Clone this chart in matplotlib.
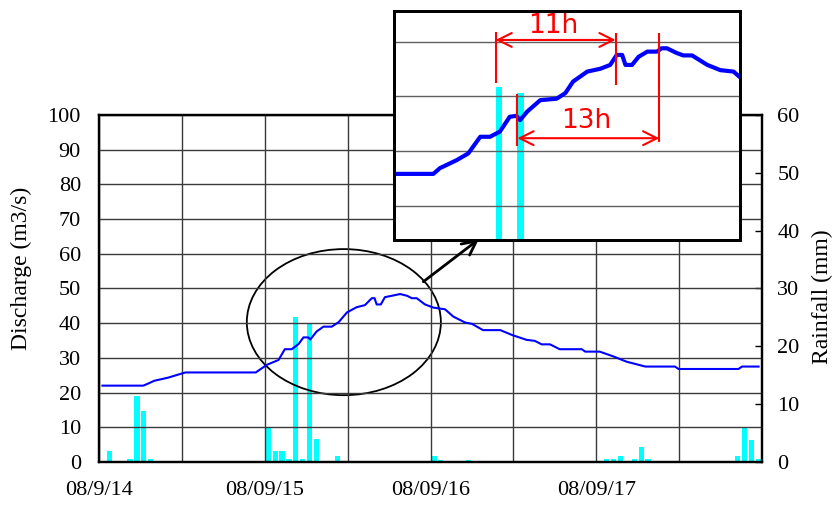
import matplotlib
matplotlib.use('Agg')
import matplotlib.pyplot as plt
from matplotlib.patches import Ellipse

# -------------------------------------------------------------------------------------
# Data (hours from 08/9/14 00:00)
q_hours = [0.5, 6.4, 7.0, 8.0, 10.0, 12.5, 22.7, 24.3, 26.0, 26.9, 27.9, 28.9, 29.6, 30.3, 30.6,
           31.5, 32.5, 33.7, 34.7, 35.9, 37.3, 38.5, 39.5, 39.9, 40.2, 40.8, 41.4, 42.4, 43.6,
           44.6, 45.3, 46.0, 47.2, 48.4, 50.1, 51.3, 53.0, 54.0, 55.6, 58.1, 59.8, 61.9, 63.1,
           64.1, 65.3, 66.7, 69.9, 70.4, 72.5, 74.5, 76.4, 79.1, 83.4, 83.9, 92.6, 93.1, 95.5]
q_values = [22.0, 22.0, 22.5, 23.4, 24.3, 25.8, 25.8, 28.0, 29.4, 32.5, 32.5, 34.0, 35.9, 35.9, 35.3,
            37.6, 39.0, 39.0, 40.3, 43.1, 44.6, 45.2, 47.2, 47.2, 45.4, 45.4, 47.5, 47.9, 48.4,
            47.9, 47.2, 47.2, 45.4, 44.5, 44.0, 41.9, 40.2, 39.8, 38.0, 38.0, 36.6, 35.2, 34.9,
            33.9, 33.9, 32.5, 32.5, 31.8, 31.8, 30.4, 28.9, 27.5, 27.5, 26.8, 26.8, 27.5, 27.5]

rain_hours = [1, 4, 5, 6, 7, 24, 25, 26, 27, 28, 29, 30, 31, 34,
              48, 49, 53, 73, 74, 75, 77, 78, 79, 92, 93, 94, 95]
rain_values = [1.9, 0.5, 11.4, 8.9, 0.5, 5.9, 1.9, 1.9, 0.5, 25.0, 0.5, 24.0, 4.0, 1.1,
               1.1, 0.4, 0.4, 0.5, 0.5, 1.1, 0.5, 2.6, 0.5, 1.1, 5.9, 3.8, 0.5]

# zoomed hydrograph (inset)
inset_q_hours = [19.2, 22.8, 23.4, 24.95, 26.0, 27.1, 28.0, 28.9, 29.8, 30.4, 30.75, 31.4, 32.6,
                 34.1, 34.9, 35.6, 36.9, 38.1, 39.0, 39.6, 40.1, 40.4, 41.0, 41.6, 42.4, 43.3,
                 43.7, 44.2, 45.1, 45.7, 46.5, 47.9, 49.1, 50.3, 50.9]
inset_q_values = [22.0, 22.0, 23.2, 24.9, 26.3, 29.8, 29.8, 30.9, 34.0, 34.2, 33.3, 35.1, 37.5,
                  37.8, 39.0, 41.4, 43.5, 44.1, 44.9, 47.0, 47.0, 44.9, 44.9, 46.6, 47.7, 47.7,
                  48.4, 48.4, 47.4, 46.9, 46.9, 44.9, 43.8, 43.5, 42.3]
inset_rain_hours = [28, 30]
inset_rain_values = [25.0, 24.0]
lag_hours = [11, 13]

tick_hours = [0, 12, 24, 36, 48, 60, 72, 84, 96]
tick_labels = ['08/9/14', '', '08/09/15', '', '08/09/16', '', '08/09/17', '', '']
# -------------------------------------------------------------------------------------

plt.rcParams['font.family'] = ['Liberation Serif', 'DejaVu Serif']

fig = plt.figure(figsize=(8.32, 5.07), dpi=100)

# Main axes [DISCHARGE] + twin [RAIN]
ax = fig.add_axes([0.119, 0.0888, 0.7969, 0.6844])
ax_r = ax.twinx()
ax.set_zorder(2)
ax_r.set_zorder(1)
ax.patch.set_visible(False)

ax_r.bar([h + 0.5 for h in rain_hours], rain_values, width=0.75, color='#00FFFF', align='center')
ax_r.set_ylim(0, 60)
ax_r.set_yticks(range(0, 61, 10))
ax_r.tick_params(axis='y', direction='in', length=5, width=1, pad=11, labelsize=16)

ax.plot(q_hours, q_values, color='#0000FF', lw=1.5)
ax.set_xlim(0, 96)
ax.set_ylim(0, 100)
ax.set_yticks(range(0, 101, 10))
ax.set_xticks(tick_hours)
ax.set_xticklabels(tick_labels)
ax.tick_params(axis='both', length=0, labelsize=16)
ax.tick_params(axis='y', pad=13)
ax.tick_params(axis='x', pad=14)
ax.grid(True, color='#3a3a3a', lw=1.0)
for sp in list(ax.spines.values()) + list(ax_r.spines.values()):
    sp.set_linewidth(1.6)

fig.text(0.026, 1 - 268 / 507, 'Discharge (m3/s)', rotation=90, ha='center', va='center', fontsize=17)
fig.text(0.988, 1 - 297 / 507, 'Rainfall (mm)', rotation=90, ha='center', va='center', fontsize=17)

# highlighted rising limb
ax.add_patch(Ellipse((35.45, 40.3), width=28.1, height=42.1, fill=False, color='black', lw=1.3))
ax.annotate('', xy=(55.0, 64.2), xytext=(46.96, 51.96), annotation_clip=False,
            arrowprops=dict(arrowstyle='->,head_length=0.5,head_width=0.25', color='black',
                            lw=2, shrinkA=0, shrinkB=0, mutation_scale=20))

# Inset [ZOOM]
ax_in_r = fig.add_axes([0.4736, 0.5266, 0.4159, 0.4523])
ax_in = ax_in_r.twinx()
ax_in_r.set_zorder(3)
ax_in.set_zorder(4)
ax_in.patch.set_visible(False)
ax_in_r.set_facecolor('white')

ax_in_r.bar([h + 0.5 for h in inset_rain_hours], inset_rain_values, width=0.6,
            color='#00FFFF', align='edge')
ax_in_r.set_ylim(0, 37.5)
ax_in_r.set_yticks([])

ax_in.plot(inset_q_hours, inset_q_values, color='#0000FF', lw=3)
ax_in.set_xlim(19.2, 50.9)
ax_in_r.set_xlim(19.2, 50.9)
ax_in.set_ylim(8.1, 56.3)
ax_in.set_yticks([15.3, 26.8, 38.4, 49.7])
ax_in_r.set_xticks([24, 36, 48])
ax_in.set_xticks([24, 36, 48])
ax_in.grid(True, color='#606060', lw=1.0)
ax_in.tick_params(axis='both', length=0, labelleft=False, labelright=False, labelbottom=False)
ax_in_r.tick_params(axis='both', length=0, labelleft=False, labelbottom=False)
for sp in list(ax_in.spines.values()) + list(ax_in_r.spines.values()):
    sp.set_linewidth(2)

# lag time annotations
t_rain = [h + 0.5 for h in inset_rain_hours]
t_peak = [t + lag for t, lag in zip(t_rain, lag_hours)]
red = '#FF0000'
ax_in.vlines(t_rain[0], 41.05, 51.9, color=red, lw=1.5)
ax_in.vlines(t_peak[0], 40.7, 51.6, color=red, lw=1.5)
ax_in.vlines(t_rain[1], 27.9, 38.8, color=red, lw=1.5)
ax_in.vlines(t_peak[1], 28.8, 51.6, color=red, lw=1.5)
arrow_props = dict(arrowstyle='<->,head_length=0.5,head_width=0.25', color=red,
                   lw=1.5, shrinkA=0, shrinkB=0, mutation_scale=20)
ax_in.annotate('', xy=(t_peak[0], 50.15), xytext=(t_rain[0], 50.15), arrowprops=arrow_props)
ax_in.annotate('', xy=(t_peak[1], 29.5), xytext=(t_rain[1], 29.5), arrowprops=arrow_props)
ax_in.text((t_rain[0] + t_peak[0]) / 2 - 0.2, 53.0, '%dh' % lag_hours[0], color=red,
           fontsize=19, ha='center', va='center', family='DejaVu Sans')
ax_in.text((t_rain[1] + t_peak[1]) / 2 - 0.2, 33.2, '%dh' % lag_hours[1], color=red,
           fontsize=19, ha='center', va='center', family='DejaVu Sans')

fig.savefig('out.png', dpi=100)
plt.close()
